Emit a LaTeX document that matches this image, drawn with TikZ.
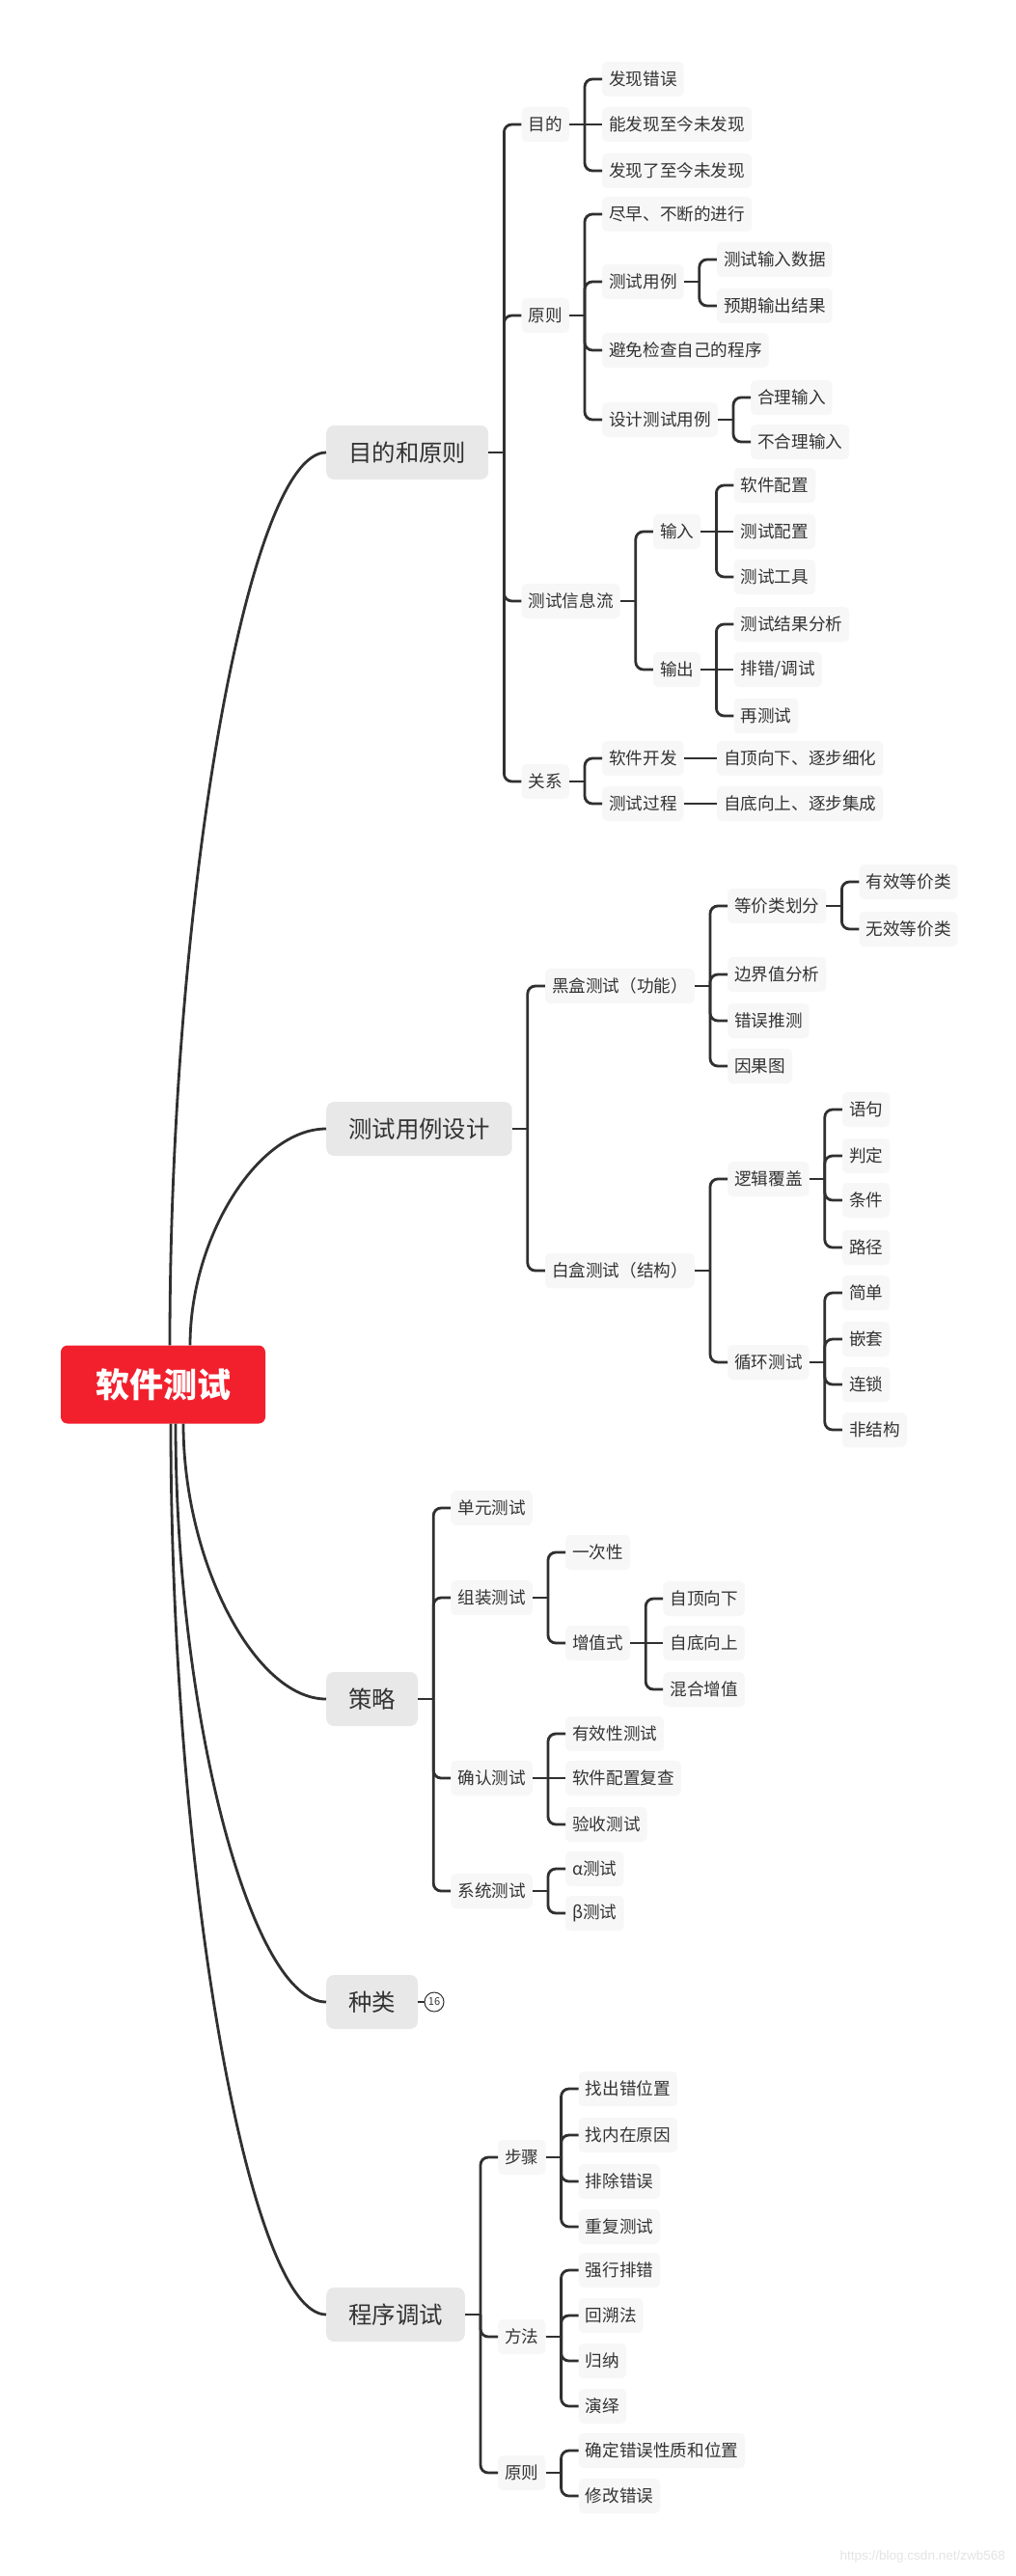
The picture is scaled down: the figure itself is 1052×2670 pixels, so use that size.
\documentclass[tikz,border=0pt]{standalone}
\usepackage{fontspec}
\setmainfont{Noto Sans CJK SC}
\newfontfamily\wmfont{Liberation Sans}
\usetikzlibrary{calc}
\definecolor{linec}{HTML}{303030}
\definecolor{txtc}{HTML}{333333}
\definecolor{leafbg}{HTML}{F7F7F7}
\definecolor{lonebg}{HTML}{E8E8E8}
\definecolor{rootred}{HTML}{F2202D}
\definecolor{wmc}{HTML}{E4E4E4}
\tikzset{
  link/.style={draw=linec, line width=2.8pt},
  leaf/.style={fill=leafbg, rounded corners=5pt, inner xsep=7pt, inner ysep=0pt, minimum height=36pt, anchor=west, text=txtc, font=\fontsize{17.6}{20}\selectfont},
  lone/.style={fill=lonebg, rounded corners=8pt, inner xsep=23pt, inner ysep=0pt, minimum height=56pt, anchor=west, text=txtc, font=\fontsize{24.4}{28}\selectfont},
  rootbox/.style={fill=rootred, rounded corners=7pt, inner xsep=36pt, inner ysep=0pt, minimum height=81pt, text=white, font=\fontsize{35}{40}\selectfont\bfseries},
}
% child on a different row than its parent
\newcommand\kid[4]{%
  \path (#2.east) ++(34,0) coordinate (#1x);
  \node[leaf] (#1) at (#1x |- 0,#3) {#4};
  \draw[link] (#2.east) -- ++(16,0) coordinate (#1j);
  \draw[link, rounded corners=8pt] (#1j) |- (#1.west);
}
% child on the same row as its parent
\newcommand\kideq[3]{%
  \path (#2.east) ++(34,0) coordinate (#1x);
  \node[leaf] (#1) at (#1x) {#3};
  \draw[link] (#2.east) -- (#1.west);
}
\newcommand\rootlink[2]{%
  \draw[link] (#1) .. controls ($(#1)!0.5!(#1 |- #2.west)$) and ($(#2.west)!0.5!(#1 |- #2.west)$) .. (#2.west);
}
\begin{document}
\begin{tikzpicture}[x=1pt, y=-1pt]
\fill[white] (0,0) rectangle (1052,2670);
\useasboundingbox (0,0) rectangle (1052,2670);

\node[rootbox] (root) at (169,1435) {软件测试};

% level 1
\node[lone] (A) at (338,469) {目的和原则};
\node[lone] (B) at (338,1170) {测试用例设计};
\node[lone] (C) at (338,1761) {策略};
\node[lone] (D) at (338,2075) {种类};
\node[lone] (E) at (338,2399) {程序调试};

\coordinate (sA) at ($(root.north)+(7,0)$);
\coordinate (sB) at ($(root.north)+(28,0)$);
\coordinate (sC) at ($(root.south)+(21,0)$);
\coordinate (sD) at ($(root.south)+(13,0)$);
\coordinate (sE) at ($(root.south)+(8,0)$);
\rootlink{sA}{A}
\rootlink{sB}{B}
\rootlink{sC}{C}
\rootlink{sD}{D}
\rootlink{sE}{E}

% section A
\kid{A1}{A}{129}{目的}
\kid{A11}{A1}{82}{发现错误}
\kideq{A12}{A1}{能发现至今未发现}
\kid{A13}{A1}{177}{发现了至今未发现}
\kid{A2}{A}{327}{原则}
\kid{A21}{A2}{222}{尽早、不断的进行}
\kid{A22}{A2}{292}{测试用例}
\kid{A221}{A22}{269}{测试输入数据}
\kid{A222}{A22}{317}{预期输出结果}
\kid{A23}{A2}{363}{避免检查自己的程序}
\kid{A24}{A2}{435}{设计测试用例}
\kid{A241}{A24}{412}{合理输入}
\kid{A242}{A24}{458}{不合理输入}
\kid{A3}{A}{623}{测试信息流}
\kid{A31}{A3}{551}{输入}
\kid{A311}{A31}{503}{软件配置}
\kideq{A312}{A31}{测试配置}
\kid{A313}{A31}{598}{测试工具}
\kid{A32}{A3}{694}{输出}
\kid{A321}{A32}{647}{测试结果分析}
\kideq{A322}{A32}{排错/调试}
\kid{A323}{A32}{742}{再测试}
\kid{A4}{A}{810}{关系}
\kid{A41}{A4}{786}{软件开发}
\kideq{A411}{A41}{自顶向下、逐步细化}
\kid{A42}{A4}{833}{测试过程}
\kideq{A421}{A42}{自底向上、逐步集成}

% section B
\kid{B1}{B}{1022}{黑盒测试（功能）}
\kid{B11}{B1}{939}{等价类划分}
\kid{B111}{B11}{914}{有效等价类}
\kid{B112}{B11}{963}{无效等价类}
\kid{B12}{B1}{1010}{边界值分析}
\kid{B13}{B1}{1058}{错误推测}
\kid{B14}{B1}{1105}{因果图}
\kid{B2}{B}{1317}{白盒测试（结构）}
\kid{B21}{B2}{1222}{逻辑覆盖}
\kid{B211}{B21}{1150}{语句}
\kid{B212}{B21}{1198}{判定}
\kid{B213}{B21}{1244}{条件}
\kid{B214}{B21}{1293}{路径}
\kid{B22}{B2}{1412}{循环测试}
\kid{B221}{B22}{1340}{简单}
\kid{B222}{B22}{1388}{嵌套}
\kid{B223}{B22}{1435}{连锁}
\kid{B224}{B22}{1482}{非结构}

% section C
\kid{C1}{C}{1563}{单元测试}
\kid{C2}{C}{1656}{组装测试}
\kid{C21}{C2}{1609}{一次性}
\kid{C22}{C2}{1703}{增值式}
\kid{C221}{C22}{1657}{自顶向下}
\kideq{C222}{C22}{自底向上}
\kid{C223}{C22}{1751}{混合增值}
\kid{C3}{C}{1843}{确认测试}
\kid{C31}{C3}{1797}{有效性测试}
\kideq{C32}{C3}{软件配置复查}
\kid{C33}{C3}{1891}{验收测试}
\kid{C4}{C}{1960}{系统测试}
\kid{C41}{C4}{1937}{α测试}
\kid{C42}{C4}{1983}{β测试}

% section D
\node[circle, draw=linec, line width=1pt, inner sep=0pt, minimum size=20pt, text=txtc, font=\fontsize{11}{11}\selectfont] (D16) at (450,2075) {16};
\draw[link] (D.east) -- (D16.west);

% section E
\kid{E1}{E}{2236}{步骤}
\kid{E11}{E1}{2165}{找出错位置}
\kid{E12}{E1}{2213}{找内在原因}
\kid{E13}{E1}{2261}{排除错误}
\kid{E14}{E1}{2308}{重复测试}
\kid{E2}{E}{2422}{方法}
\kid{E21}{E2}{2353}{强行排错}
\kid{E22}{E2}{2400}{回溯法}
\kid{E23}{E2}{2447}{归纳}
\kid{E24}{E2}{2494}{演绎}
\kid{E3}{E}{2563}{原则}
\kid{E31}{E3}{2540}{确定错误性质和位置}
\kid{E32}{E3}{2587}{修改错误}

\node[anchor=east, text=wmc, inner sep=0pt, font=\wmfont\fontsize{13.5}{15}\selectfont] (wm) at (1042,2650) {https://blog.csdn.net/zwb568};
\end{tikzpicture}
\end{document}
